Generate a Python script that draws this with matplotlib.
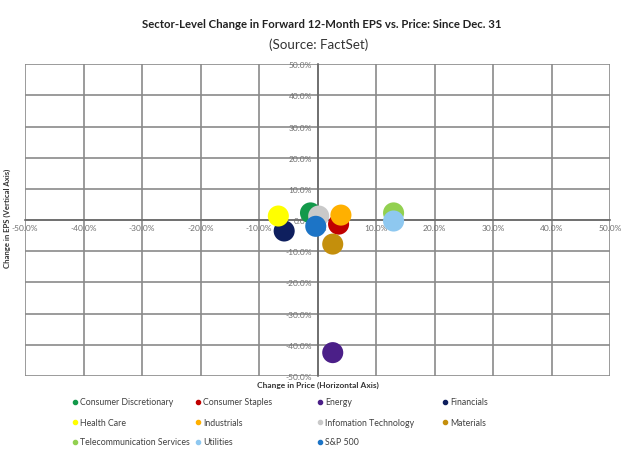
import numpy as np
import matplotlib
matplotlib.use("Agg")
import matplotlib.pyplot as plt
from matplotlib.lines import Line2D

plt.rcParams["font.family"] = ["Lato", "DejaVu Sans"]

# Data (percent change since Dec. 31)
sectors = [
    "Consumer Discretionary", "Consumer Staples", "Energy", "Financials",
    "Health Care", "Industrials", "Infomation Technology", "Materials",
    "Telecommunication Services", "Utilities", "S&P 500",
]
price_change = [-1.2, 3.6, 2.6, -5.7, -6.7, 4.0, 0.2, 2.6, 13.0, 13.0, -0.3]
eps_change = [2.3, -1.3, -42.5, -3.5, 1.3, 1.6, 1.3, -7.7, 2.3, -0.3, -2.0]
colors = [
    "#12994a", "#c00000", "#4b1f88", "#0e1f5e", "#ffff00", "#ffb000",
    "#c9c9c9", "#c48f0c", "#92d050", "#8ec8f0", "#1c74c6",
]
tick_values = np.arange(-50, 51, 10)

fig = plt.figure(figsize=(6.3, 4.6), dpi=100)
ax = fig.add_axes([0.0397, 0.1804, 0.9286, 0.678])

ax.set_xlim(-50, 50)
ax.set_ylim(-50, 50)
ax.set_xticks(tick_values)
ax.set_yticks(tick_values)
ax.set_xticklabels([f"{v:.1f}%" for v in tick_values])
ax.set_yticklabels([f"{v:.1f}%" for v in tick_values])

# grid, including the outer frame
ax.grid(True, color="#8a8a8a", linewidth=1.2)
for line in ax.get_xgridlines() + ax.get_ygridlines():
    line.set_clip_on(False)

# axes cross at zero
ax.spines["left"].set_position(("data", 0))
ax.spines["bottom"].set_position(("data", 0))
for side in ["left", "bottom"]:
    ax.spines[side].set_color("#6a6a6a")
    ax.spines[side].set_linewidth(1.2)
for side in ["top", "right"]:
    ax.spines[side].set_visible(False)

ax.tick_params(axis="both", length=0, labelsize=6, labelcolor="#707070")
ax.tick_params(axis="x", pad=3)
ax.tick_params(axis="y", pad=4)
ax.set_axisbelow(True)

for name, x, y, c in zip(sectors, price_change, eps_change, colors):
    ax.scatter(x, y, s=230, color=c, edgecolors="none", zorder=3, clip_on=False)

# titles
fig.text(0.51, 0.946, "Sector-Level Change in Forward 12-Month EPS vs. Price: Since Dec. 31",
         ha="center", va="center", fontsize=8.2, fontweight="bold", color="#222222")
fig.text(0.505, 0.902, "(Source: FactSet)", ha="center", va="center",
         fontsize=9.6, color="#333333")

# axis titles
fig.text(0.505, 0.163, "Change in Price (Horizontal Axis)", ha="center", va="center",
         fontsize=6, fontweight="bold", color="#333333")
fig.text(0.012, 0.525, "Change in EPS (Vertical Axis)", ha="center", va="center",
         rotation=90, fontsize=5.6, fontweight="bold", color="#333333")

# legend laid out in a 4-column grid
col_x = [0.119, 0.314, 0.508, 0.706]
row_y = [0.124, 0.080, 0.037]
for i, (name, c) in enumerate(zip(sectors, colors)):
    x = col_x[i % 4]
    y = row_y[i // 4]
    fig.add_artist(Line2D([x], [y], marker="o", markersize=3, color=c,
                          linestyle="none", transform=fig.transFigure))
    fig.text(x + 0.008, y, name, ha="left", va="center", fontsize=6.3, color="#404040")

fig.savefig("out.png", dpi=100)
